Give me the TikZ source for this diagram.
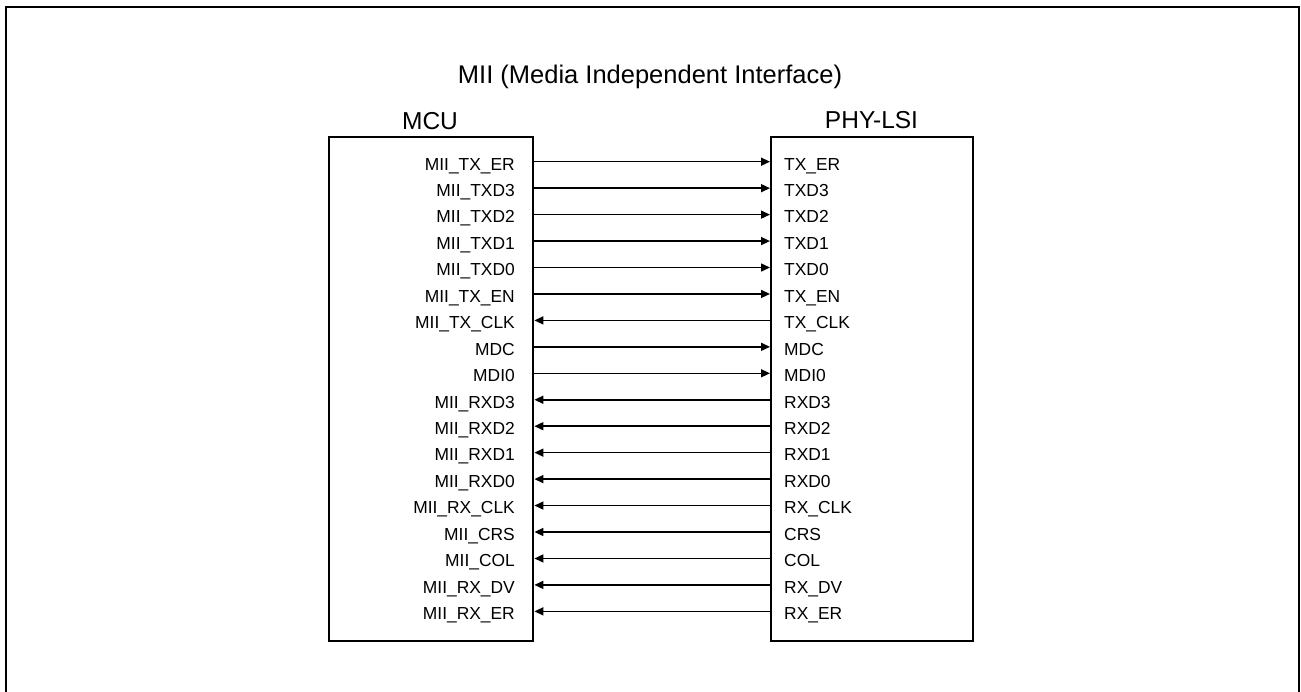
\documentclass[tikz,border=0pt]{standalone}
\usepackage{fontspec}
\setmainfont{Liberation Sans}
\usetikzlibrary{arrows.meta}
\begin{document}
\begin{tikzpicture}[x=1pt,y=-1pt,
  frame/.style={line width=2.4pt},
  chip/.style={draw,line width=2.4pt,inner sep=0pt,anchor=north west,minimum height=504pt},
  sig/.style={line width=1.5pt},
  fwd/.style={-{Triangle[length=9pt,width=8pt]}},
  bwd/.style={{Triangle[length=9pt,width=8pt]}-},
  lbl/.style={font=\fontsize{17.4}{20}\selectfont,inner sep=0pt},
  head/.style={font=\fontsize{24.5}{29}\selectfont,inner sep=0pt,anchor=base}]
\useasboundingbox (0,0) rectangle (1301,691);
\draw[frame] (6,692) -- (6,7) -- (1299,7) -- (1299,692);
\node[head,font=\fontsize{25.5}{30}\selectfont] (title) at (650,83) {MII (Media Independent Interface)};
\node[head] (mcut) at (430,129) {MCU};
\node[head] (phyt) at (871.5,128) {PHY-LSI};
\node[chip,minimum width=204pt] (mcu) at (328,136) {};
\node[chip,minimum width=202pt] (phy) at (770,136) {};
\foreach \i/\l/\r/\d in {
  0/MII\_TX\_ER/TX\_ER/fwd,
  1/MII\_TXD3/TXD3/fwd,
  2/MII\_TXD2/TXD2/fwd,
  3/MII\_TXD1/TXD1/fwd,
  4/MII\_TXD0/TXD0/fwd,
  5/MII\_TX\_EN/TX\_EN/fwd,
  6/MII\_TX\_CLK/TX\_CLK/bwd,
  7/MDC/MDC/fwd,
  8/MDI0/MDI0/fwd,
  9/MII\_RXD3/RXD3/bwd,
  10/MII\_RXD2/RXD2/bwd,
  11/MII\_RXD1/RXD1/bwd,
  12/MII\_RXD0/RXD0/bwd,
  13/MII\_RX\_CLK/RX\_CLK/bwd,
  14/MII\_CRS/CRS/bwd,
  15/MII\_COL/COL/bwd,
  16/MII\_RX\_DV/RX\_DV/bwd,
  17/MII\_RX\_ER/RX\_ER/bwd}{
  \pgfmathsetmacro\yy{161.7+26.45*\i}
  \node[lbl,anchor=base east] (ml\i) at (515,{\yy+8.3}) {\l};
  \node[lbl,anchor=base west] (pl\i) at (784,{\yy+8.3}) {\r};
  \coordinate (a\i) at (mcu.east |- 0,\yy);
  \coordinate (b\i) at (phy.west |- 0,\yy);
  \draw[sig,\d] (a\i) -- (b\i);
}
\end{tikzpicture}
\end{document}
